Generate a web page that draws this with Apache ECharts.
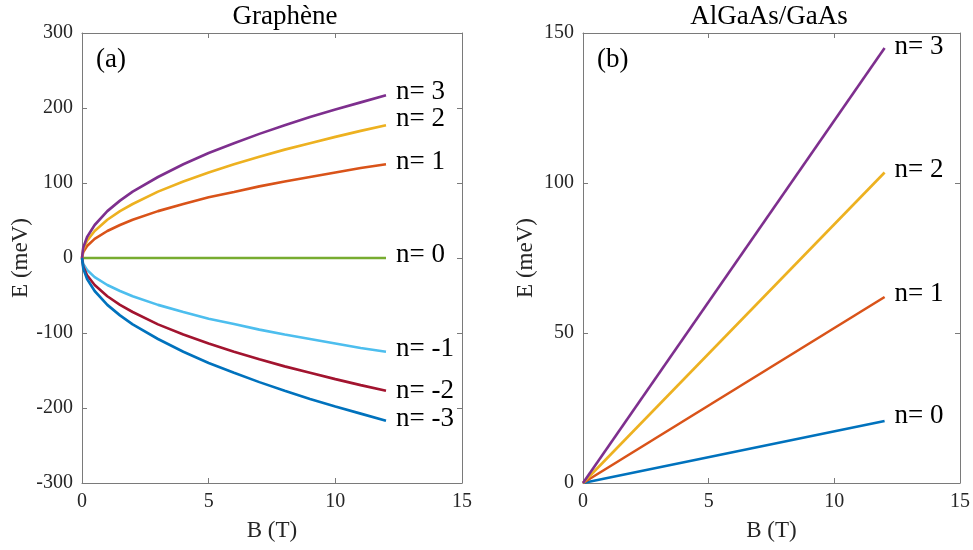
<!DOCTYPE html>
<html><head><meta charset="utf-8">
<script src="https://cdn.jsdelivr.net/npm/echarts@6/dist/echarts.min.js"></script>
<style>html,body{margin:0;padding:0;background:#fff}#c{width:973px;height:550px}</style>
</head><body><div id="c"></div>
<script>
// Graphene (a): B samples and read energies
const bGraphene = [0, 0.05, 0.2, 0.5, 1, 1.5, 2, 3, 4, 5, 6, 7, 8, 9, 10, 11, 12];
const eN3 = [0, 14, 28, 44, 62.5, 76.5, 88.5, 108, 125, 140, 153, 165.5, 177, 188, 198, 207.5, 217];
const eN2 = [0, 11.4, 23, 36, 51, 62.5, 72, 88.5, 102, 114, 125, 135, 144.5, 153, 161.5, 169.5, 177];
const eN1 = [0, 8, 16, 25.5, 36, 44, 51, 62.5, 72, 81, 88, 95.5, 102, 108, 114, 120, 125];
const eN0 = [0, 0, 0, 0, 0, 0, 0, 0, 0, 0, 0, 0, 0, 0, 0, 0, 0];
const eNm1 = [0, -8, -16, -25.5, -36, -44, -51, -62.5, -72, -81, -88, -95.5, -102, -108, -114, -120, -125];
const eNm2 = [0, -11.4, -23, -36, -51, -62.5, -72, -88.5, -102, -114, -125, -135, -144.5, -153, -161.5, -169.5, -177];
const eNm3 = [0, -14, -28, -44, -62.5, -76.5, -88.5, -108, -125, -140, -153, -165.5, -177, -188, -198, -207.5, -217];
// AlGaAs/GaAs (b)
const bGaAs = [0, 12];
const gN0 = [0, 20.7];
const gN1 = [0, 62];
const gN2 = [0, 103.5];
const gN3 = [0, 145];
const xTicks = [0, 5, 10, 15];
const yTicksA = [-300, -200, -100, 0, 100, 200, 300];
const yTicksB = [0, 50, 100, 150];

const C = {purple:'#7E2F8E', yellow:'#EDB120', orange:'#D95319', green:'#77AC30', lblue:'#4DBEEE', dred:'#A2142F', blue:'#0072BD'};
const FONT = 'Liberation Serif';
const zip = (xs, ys) => xs.map((x, i) => [x, ys[i]]);

const chart = echarts.init(document.getElementById('c'));
const axLine = {show:true, onZero:false, lineStyle:{color:'#7a7a7a', width:1}};
const tick = {show:true, inside:true, length:5, lineStyle:{color:'#7a7a7a'}};
const lbl = {color:'#262626', fontFamily:FONT, fontSize:20, margin:9};
const nameStyle = {color:'#262626', fontFamily:FONT, fontSize:23};

function xAx(grid) {
  return [
    {gridIndex:grid, type:'value', min:xTicks[0], max:xTicks[xTicks.length-1], interval:5, axisLine:axLine, axisTick:tick,
     splitLine:{show:false}, axisLabel:lbl, name:'B (T)', nameLocation:'middle', nameGap:36, nameTextStyle:nameStyle},
    {gridIndex:grid, type:'value', position:'top', min:xTicks[0], max:xTicks[xTicks.length-1], interval:5, axisLine:axLine,
     axisTick:tick, splitLine:{show:false}, axisLabel:{show:false}}
  ];
}
function yAx(grid, ticks, interval, nameGap) {
  const min = ticks[0], max = ticks[ticks.length-1];
  return [
    {gridIndex:grid, type:'value', min, max, interval, axisLine:axLine, axisTick:tick, splitLine:{show:false},
     axisLabel:lbl, name:'E (meV)', nameLocation:'middle', nameGap, nameTextStyle:nameStyle},
    {gridIndex:grid, type:'value', position:'right', min, max, interval, axisLine:axLine, axisTick:tick,
     splitLine:{show:false}, axisLabel:{show:false}}
  ];
}
function ser(xi, yi, data, color, name, off) {
  return {type:'line', xAxisIndex:xi, yAxisIndex:yi, data, showSymbol:false, symbol:'none', smooth:false,
    lineStyle:{color, width:2.6}, itemStyle:{color}, silent:true, animation:false, z:3,
    endLabel:{show:true, formatter:name, color:'#000', fontFamily:FONT, fontSize:27, offset:off||[0,0], distance:10}};
}

chart.setOption({
  animation:false,
  title:[
    {text:'Graphène', left:280, top:-2, textAlign:'center', textStyle:{fontFamily:FONT, fontSize:27, fontWeight:'normal', color:'#000'}},
    {text:'AlGaAs/GaAs', left:764, top:-2, textAlign:'center', textStyle:{fontFamily:FONT, fontSize:27, fontWeight:'normal', color:'#000'}}
  ],
  graphic:[
    {type:'text', left:96, top:46, style:{text:'(a)', fontFamily:FONT, fontSize:27, fill:'#000'}},
    {type:'text', left:597, top:46, style:{text:'(b)', fontFamily:FONT, fontSize:27, fill:'#000'}}
  ],
  grid:[
    {left:82, top:33, width:380, height:450},
    {left:583, top:33, width:380, height:450}
  ],
  xAxis:[...xAx(0), ...xAx(1)],
  yAxis:[...yAx(0, yTicksA, 100, 50), ...yAx(1, yTicksB, 50, 46)],
  series:[
    ser(0,0, zip(bGraphene, eN0), C.green, 'n= 0', [0,-3]),
    ser(0,0, zip(bGraphene, eN1), C.orange, 'n= 1', [0,-2]),
    ser(0,0, zip(bGraphene, eN2), C.yellow, 'n= 2', [0,-6]),
    ser(0,0, zip(bGraphene, eN3), C.purple, 'n= 3', [0,-3]),
    ser(0,0, zip(bGraphene, eNm1), C.lblue, 'n= -1', [0,-3]),
    ser(0,0, zip(bGraphene, eNm2), C.dred, 'n= -2', [0,0]),
    ser(0,0, zip(bGraphene, eNm3), C.blue, 'n= -3', [0,-2]),
    ser(2,2, zip(bGaAs, gN0), C.blue, 'n= 0', [0,-5]),
    ser(2,2, zip(bGaAs, gN1), C.orange, 'n= 1', [0,-3]),
    ser(2,2, zip(bGaAs, gN2), C.yellow, 'n= 2', [0,-3]),
    ser(2,2, zip(bGaAs, gN3), C.purple, 'n= 3', [0,-1])
  ]
});
</script></body></html>
